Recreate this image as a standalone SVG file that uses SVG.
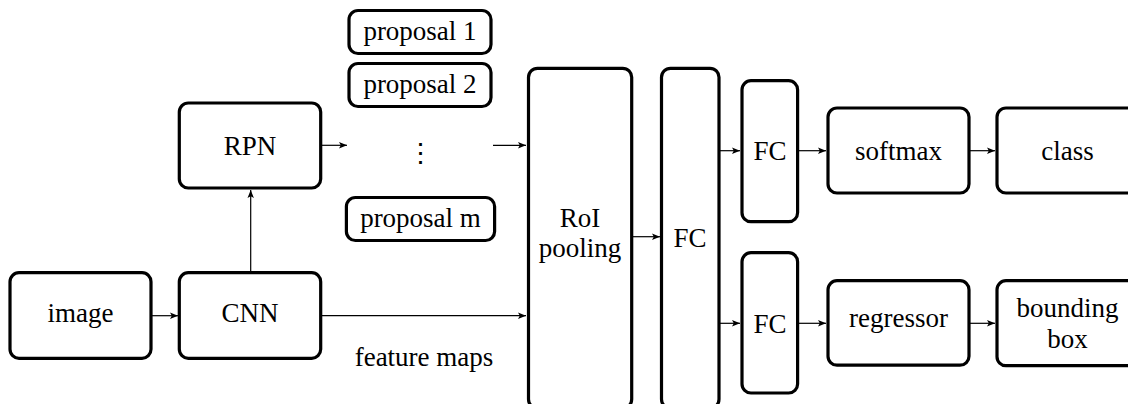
<svg xmlns="http://www.w3.org/2000/svg" width="1128" height="404" viewBox="0 0 1128 404" font-family="Liberation Serif">
<style>
.box{fill:#fff;stroke:#000;stroke-width:3.2}
.c{fill:none;stroke:#000;stroke-width:1.2}
text{font-family:'Liberation Serif',serif;font-size:27px;text-anchor:middle;fill:#000}
</style>
<defs>
<marker id="ah" markerWidth="10" markerHeight="8" refX="8" refY="4" orient="auto" markerUnits="userSpaceOnUse">
<path d="M0,0.8 L8,4 L0,7.2 L1.8,4 Z" fill="#000"/>
</marker>
</defs>
<rect width="1128" height="404" fill="#fff"/>
<g id="connectors">
<line class="c" x1="151" y1="315.7" x2="178" y2="315.7" marker-end="url(#ah)"/>
<line class="c" x1="250.7" y1="273" x2="250.7" y2="190" marker-end="url(#ah)"/>
<line class="c" x1="322" y1="145.3" x2="347" y2="145.3" marker-end="url(#ah)"/>
<line class="c" x1="493" y1="145.3" x2="526" y2="145.3" marker-end="url(#ah)"/>
<line class="c" x1="322" y1="315.7" x2="526" y2="315.7" marker-end="url(#ah)"/>
<line class="c" x1="633" y1="236.7" x2="660" y2="236.7" marker-end="url(#ah)"/>
<line class="c" x1="720" y1="150.7" x2="740" y2="150.7" marker-end="url(#ah)"/>
<line class="c" x1="720" y1="323.3" x2="740" y2="323.3" marker-end="url(#ah)"/>
<line class="c" x1="799" y1="150.7" x2="826" y2="150.7" marker-end="url(#ah)"/>
<line class="c" x1="799" y1="323.3" x2="826" y2="323.3" marker-end="url(#ah)"/>
<line class="c" x1="970" y1="150.7" x2="995" y2="150.7" marker-end="url(#ah)"/>
<line class="c" x1="970" y1="323.3" x2="995" y2="323.3" marker-end="url(#ah)"/>
</g>
<g id="image"><rect class="box" x="10" y="272.7" width="141" height="85.6" rx="9"/><text font-family="Liberation Serif" x="80.5" y="322">image</text></g>
<g id="cnn"><rect class="box" x="179.3" y="272.7" width="141.4" height="85.6" rx="9"/><text font-family="Liberation Serif" x="250" y="322">CNN</text></g>
<g id="rpn"><rect class="box" x="179.3" y="103" width="141.4" height="85" rx="9"/><text font-family="Liberation Serif" x="250" y="155">RPN</text></g>
<g id="proposal1"><rect class="box" x="349" y="10.5" width="142" height="43" rx="9"/><text font-family="Liberation Serif" x="420" y="40">proposal 1</text></g>
<g id="proposal2"><rect class="box" x="349" y="63.5" width="142" height="43" rx="9"/><text font-family="Liberation Serif" x="420" y="93">proposal 2</text></g>
<g id="dots"><text font-family="Liberation Serif" x="420.5" y="162">⋮</text></g>
<g id="proposalm"><rect class="box" x="346.4" y="197.5" width="148.2" height="43" rx="9"/><text font-family="Liberation Serif" x="420.5" y="227">proposal m</text></g>
<g id="feature"><text font-family="Liberation Serif" x="424" y="366">feature maps</text></g>
<g id="roi"><rect class="box" x="528.5" y="68.3" width="103.2" height="340" rx="9"/><text font-family="Liberation Serif" x="580" y="227">RoI</text><text font-family="Liberation Serif" x="580" y="257">pooling</text></g>
<g id="fc"><rect class="box" x="661.5" y="68.3" width="57.5" height="340" rx="9"/><text font-family="Liberation Serif" x="690" y="247">FC</text></g>
<g id="fc1"><rect class="box" x="742" y="80.7" width="55.6" height="141" rx="9"/><text font-family="Liberation Serif" x="770" y="160">FC</text></g>
<g id="fc2"><rect class="box" x="742" y="252.7" width="55.6" height="140.3" rx="9"/><text font-family="Liberation Serif" x="770" y="333">FC</text></g>
<g id="softmax"><rect class="box" x="828" y="108" width="141" height="85" rx="9"/><text font-family="Liberation Serif" x="898.5" y="160">softmax</text></g>
<g id="regressor"><rect class="box" x="828" y="280.7" width="141" height="84.5" rx="9"/><text font-family="Liberation Serif" x="898.5" y="327">regressor</text></g>
<g id="class"><rect class="box" x="997" y="108" width="141" height="85" rx="9"/><text font-family="Liberation Serif" x="1067.5" y="160">class</text></g>
<g id="bbox"><rect class="box" x="997" y="280.7" width="141" height="85" rx="9"/><text font-family="Liberation Serif" x="1067.5" y="317">bounding</text><text font-family="Liberation Serif" x="1067.5" y="348">box</text></g>
</svg>
